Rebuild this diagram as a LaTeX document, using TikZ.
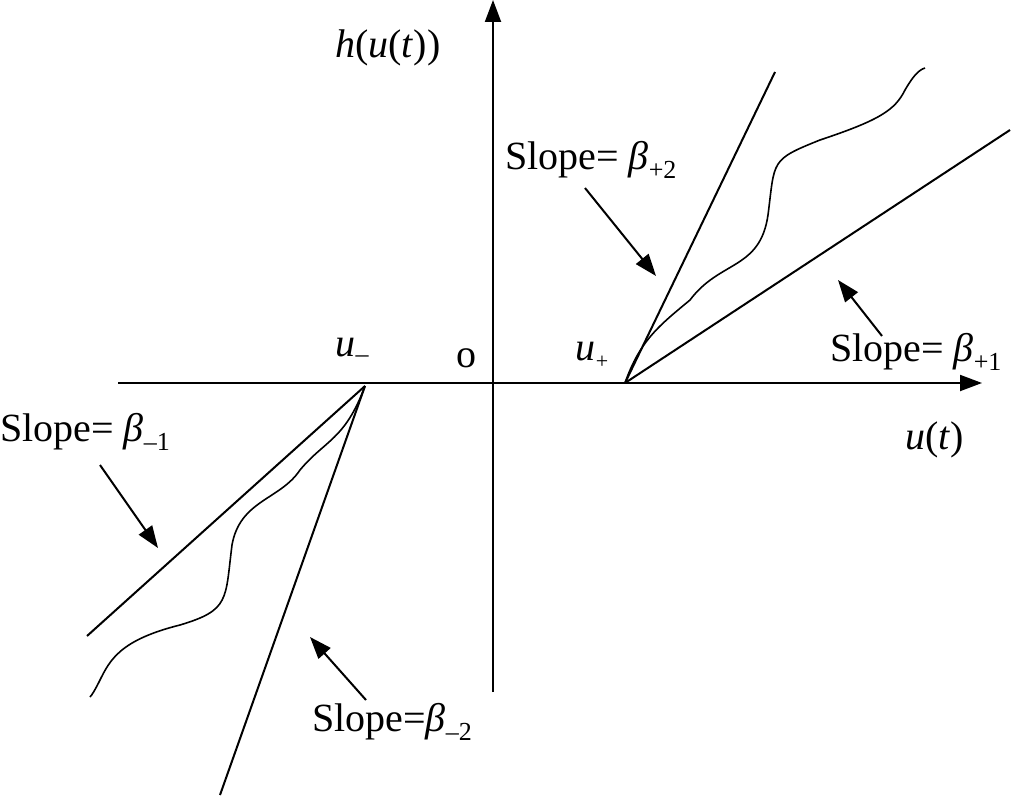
\documentclass[tikz,border=0pt]{standalone}
\usepackage{fontspec}
\setmainfont{Liberation Serif}
\usetikzlibrary{arrows.meta}
\begin{document}
\begin{tikzpicture}[x=1pt,y=-1pt,
  ln/.style={line width=2pt},
  ar/.style={line width=2pt,-{Triangle[length=22pt,width=16pt]}},
  lbl/.style={inner sep=0pt,font=\fontsize{40}{46}\selectfont}]
\useasboundingbox (0,0) rectangle (1024,799);
\coordinate (xl) at (118,383); \coordinate (xr) at (982,383);
\coordinate (yb) at (493,692); \coordinate (yt) at (493,0);
\draw[ar] (xl) -- (xr);
\draw[ar] (yb) -- (yt);
\coordinate (up) at (625,383); \coordinate (um) at (365,386);
\coordinate (a1) at (775,72); \coordinate (a2) at (1010,130);
\coordinate (b1) at (87,636); \coordinate (b2) at (220,795);
\draw[ln] (up) -- (a1); \draw[ln] (up) -- (a2);
\draw[ln] (um) -- (b1); \draw[ln] (um) -- (b2);
\draw[line width=1.6pt] (up) .. controls (640,340) and (660,325) .. (690,300)
  .. controls (720,260) and (760,270) .. (768,215)
  .. controls (775,160) and (770,160) .. (820,140)
  .. controls (880,120) and (895,110) .. (905,90) .. controls (912,78) and (918,70) .. (925,68);
\draw[line width=1.6pt] (um) .. controls (345,440) and (325,440) .. (300,470)
  .. controls (280,500) and (240,500) .. (232,545)
  .. controls (225,600) and (230,610) .. (180,625)
  .. controls (120,640) and (110,660) .. (100,680) .. controls (95,690) and (92,695) .. (90,697);
\node[lbl,anchor=west] (h) at (335,48) {\textit{h}(\textit{u}(\textit{t}))};
\node[lbl,anchor=west] (ut) at (905,440) {\textit{u}(\textit{t})};
\node[lbl] (o) at (466,358) {o};
\node[lbl] (umn) at (352,350) {\textit{u}\raisebox{-6pt}{\fontsize{26}{30}\selectfont –}};
\node[lbl] (upn) at (592,355) {\textit{u}\raisebox{-8pt}{\fontsize{22}{26}\selectfont +}};
\newcommand\sub[1]{\raisebox{-9pt}{\fontsize{26}{30}\selectfont #1}}
\node[lbl,anchor=west] (s1) at (505,160) {Slope= \textit{β}\sub{+2}};
\node[lbl,anchor=west] (s2) at (830,352) {Slope= \textit{β}\sub{+1}};
\node[lbl,anchor=west] (s3) at (0,432) {Slope= \textit{β}\sub{–1}};
\node[lbl,anchor=west] (s4) at (312,722) {Slope=\textit{β}\sub{–2}};
\coordinate (p1) at (585,188); \coordinate (q1) at (656,276);
\coordinate (p2) at (882,336); \coordinate (q2) at (838,280);
\coordinate (p3) at (100,465); \coordinate (q3) at (158,548);
\coordinate (p4) at (366,700); \coordinate (q4) at (310,637);
\draw[ar] (p1) -- (q1); \draw[ar] (p2) -- (q2);
\draw[ar] (p3) -- (q3); \draw[ar] (p4) -- (q4);
\end{tikzpicture}
\end{document}
